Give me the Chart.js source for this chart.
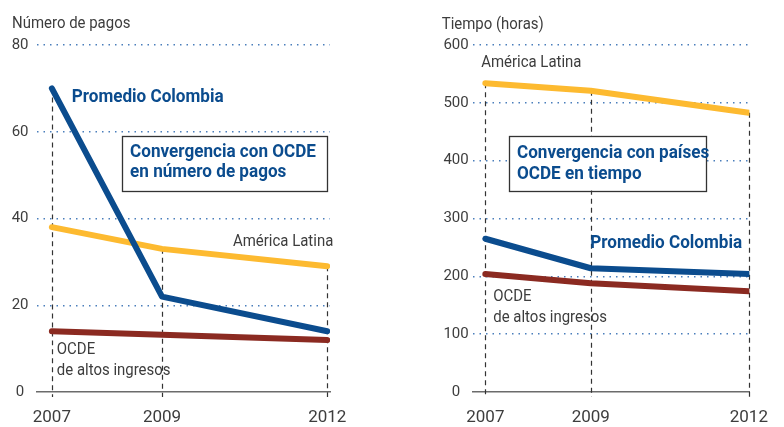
<!DOCTYPE html>
<html><head><meta charset="utf-8">
<script src="https://cdn.jsdelivr.net/npm/chart.js@4.4.0/dist/chart.umd.min.js"></script>
<style>
html,body{margin:0;padding:0;background:#fff;}
#wrap{position:relative;width:784px;height:427px;overflow:hidden;}
.c{position:absolute;top:0;width:392px;height:427px;}
</style></head><body>
<div id="wrap">
<div class="c" style="left:0"><canvas id="c1" width="392" height="427"></canvas></div>
<div class="c" style="left:392px"><canvas id="c2" width="392" height="427"></canvas></div>
</div>
<script>
// ---- data ----
const years = [2007, 2009, 2012];
const yearLabels = ['2007', '2009', '2012'];

// Left panel: Número de pagos
const pagosColombia = [70, 22, 14];
const pagosAmericaLatina = [38, 33, 29];
const pagosOCDE = [14, 13.2, 12];
const pagosTicks = [0, 20, 40, 60, 80];

// Right panel: Tiempo (horas)
const horasColombia = [265, 214, 204];
const horasAmericaLatina = [534, 521, 483];
const horasOCDE = [204, 188, 174];
const horasTicks = [0, 100, 200, 300, 400, 500, 600];

// ---- styling ----
const FONT = '"Roboto", "Liberation Sans", sans-serif';
const BLUE = '#0B4C8E';
const YELLOW = '#FDBA30';
const RED = '#8B2A21';
const GRID = '#4A7EBB';
const TXT = '#3d3d3d';
Chart.defaults.font.family = FONT;
Chart.defaults.color = TXT;

const pts = arr => years.map((x, i) => ({x, y: arr[i]}));

function condensedText(ctx, text, px, py, size, bold, color, align) {
  const sx = bold ? 0.95 : 0.88;
  ctx.save();
  ctx.font = (bold ? 'bold ' : '') + size + 'px ' + FONT;
  ctx.fillStyle = color;
  ctx.textAlign = align || 'left';
  ctx.textBaseline = 'middle';
  ctx.translate(px, py);
  ctx.scale(sx, 1);
  ctx.fillText(text, 0, 0);
  ctx.restore();
}

const dropLines = {
  id: 'dropLines',
  beforeDatasetsDraw(chart) {
    const {ctx, scales: {x, y}} = chart;
    ctx.save();
    ctx.strokeStyle = '#333';
    ctx.lineWidth = 1.2;
    ctx.setLineDash([5, 4]);
    years.forEach((yr, i) => {
      const top = Math.max(...chart.data.datasets.map(d => d.data[i].y));
      const px = Math.round(x.getPixelForValue(yr)) + 0.5;
      ctx.beginPath();
      ctx.moveTo(px, y.getPixelForValue(top));
      ctx.lineTo(px, y.getPixelForValue(0) + 5);
      ctx.stroke();
    });
    ctx.restore();
  }
};

const notes = {
  id: 'notes',
  afterDatasetsDraw(chart, args, o) {
    const {ctx, scales: {x, y}} = chart;
    ctx.save();
    (o.boxes || []).forEach(b => {
      const x1 = x.getPixelForValue(b.x1), x2 = x.getPixelForValue(b.x2);
      const y1 = y.getPixelForValue(b.y1), y2 = y.getPixelForValue(b.y2);
      ctx.fillStyle = '#fff';
      ctx.fillRect(x1, y1, x2 - x1, y2 - y1);
      ctx.strokeStyle = '#333';
      ctx.lineWidth = 1.3;
      ctx.strokeRect(Math.round(x1) + 0.5, Math.round(y1) + 0.5, Math.round(x2 - x1), Math.round(y2 - y1));
    });
    ctx.restore();
    (o.texts || []).forEach(t => {
      condensedText(ctx, t.text, x.getPixelForValue(t.x), y.getPixelForValue(t.y), t.size, t.bold, t.color, t.align);
    });
  },
  afterDraw(chart, args, o) {
    if (!o.title) return;
    condensedText(chart.ctx, o.title.text, o.title.px, o.title.py, 17, false, TXT, 'left');
  }
};

function makeChart(id, s, cfg) {
  return new Chart(document.getElementById(id), {
    type: 'line',
    data: {
      datasets: [
        {label: 'Promedio Colombia', data: pts(s.col), borderColor: BLUE},
        {label: 'América Latina', data: pts(s.al), borderColor: YELLOW},
        {label: 'OCDE de altos ingresos', data: pts(s.ocde), borderColor: RED}
      ].map(d => Object.assign(d, {borderWidth: 6, pointRadius: 0, tension: 0, borderCapStyle: 'round', borderJoinStyle: 'round', fill: false}))
    },
    options: {
      responsive: false,
      animation: false,
      events: [],
      layout: {padding: cfg.padding},
      plugins: {legend: {display: false}, tooltip: {enabled: false}, notes: cfg.notes},
      scales: {
        x: {
          type: 'linear', min: cfg.xmin, max: cfg.xmax,
          afterBuildTicks: sc => { sc.ticks = years.map(v => ({value: v})); },
          afterFit: sc => { sc.height = 35; },
          grid: {display: false, drawTicks: false},
          border: {display: true, color: '#6b6b6b', width: 1.6},
          ticks: {padding: 16, autoSkip: false, maxRotation: 0, color: TXT,
            font: {size: 17}, callback: (v) => yearLabels[years.indexOf(v)] ?? ''}
        },
        y: {
          min: 0, max: cfg.ymax,
          afterBuildTicks: sc => { sc.ticks = cfg.ticks.map(v => ({value: v})); },
          afterFit: sc => { sc.width = 37; },
          grid: {drawTicks: false, lineWidth: 1.5, color: c => c.tick && c.tick.value === 0 ? 'rgba(0,0,0,0)' : GRID},
          border: {display: false, dash: [1.5, 5]},
          ticks: {crossAlign: 'center', padding: cfg.tickPad, color: TXT, font: {size: 15}}
        }
      }
    },
    plugins: [dropLines, notes]
  });
}

makeChart('c1', {col: pagosColombia, al: pagosAmericaLatina, ocde: pagosOCDE}, {
  padding: {top: 45, left: 0, right: 62, bottom: 0},
  xmin: 2006.73, xmax: 2012.05, ymax: 80, ticks: pagosTicks, tickPad: 8.5,
  notes: {
    title: {text: 'Número de pagos', px: 12, py: 24},
    boxes: [{x1: 2008.27, x2: 2012.0, y1: 59.0, y2: 46.4}],
    texts: [
      {text: 'Promedio Colombia', x: 2007.36, y: 67.8, bold: true, size: 18, color: BLUE},
      {text: 'Convergencia con OCDE', x: 2008.42, y: 55.3, bold: true, size: 18, color: BLUE},
      {text: 'en número de pagos', x: 2008.42, y: 50.5, bold: true, size: 18, color: BLUE},
      {text: 'América Latina', x: 2012.11, y: 34.6, size: 17, color: TXT, align: 'right'},
      {text: 'OCDE', x: 2007.09, y: 9.7, size: 17, color: TXT},
      {text: 'de altos ingresos', x: 2007.09, y: 4.9, size: 17, color: TXT}
    ]
  }
});

makeChart('c2', {col: horasColombia, al: horasAmericaLatina, ocde: horasOCDE}, {
  padding: {top: 45, left: 43.7, right: 22.3, bottom: 0},
  xmin: 2006.76, xmax: 2012.01, ymax: 600, ticks: horasTicks, tickPad: 4,
  notes: {
    title: {text: 'Tiempo (horas)', px: 49.7, py: 25},
    boxes: [{x1: 2007.45, x2: 2011.19, y1: 442.9, y2: 348.3}],
    texts: [
      {text: 'América Latina', x: 2006.92, y: 568.7, size: 17, color: TXT},
      {text: 'Convergencia con países', x: 2007.6, y: 413, bold: true, size: 18, color: BLUE},
      {text: 'OCDE en tiempo', x: 2007.6, y: 375.4, bold: true, size: 18, color: BLUE},
      {text: 'Promedio Colombia', x: 2008.99, y: 256, bold: true, size: 18, color: BLUE},
      {text: 'OCDE', x: 2007.15, y: 164.9, size: 17, color: TXT},
      {text: 'de altos ingresos', x: 2007.15, y: 129.2, size: 17, color: TXT}
    ]
  }
});
</script>
</body></html>
